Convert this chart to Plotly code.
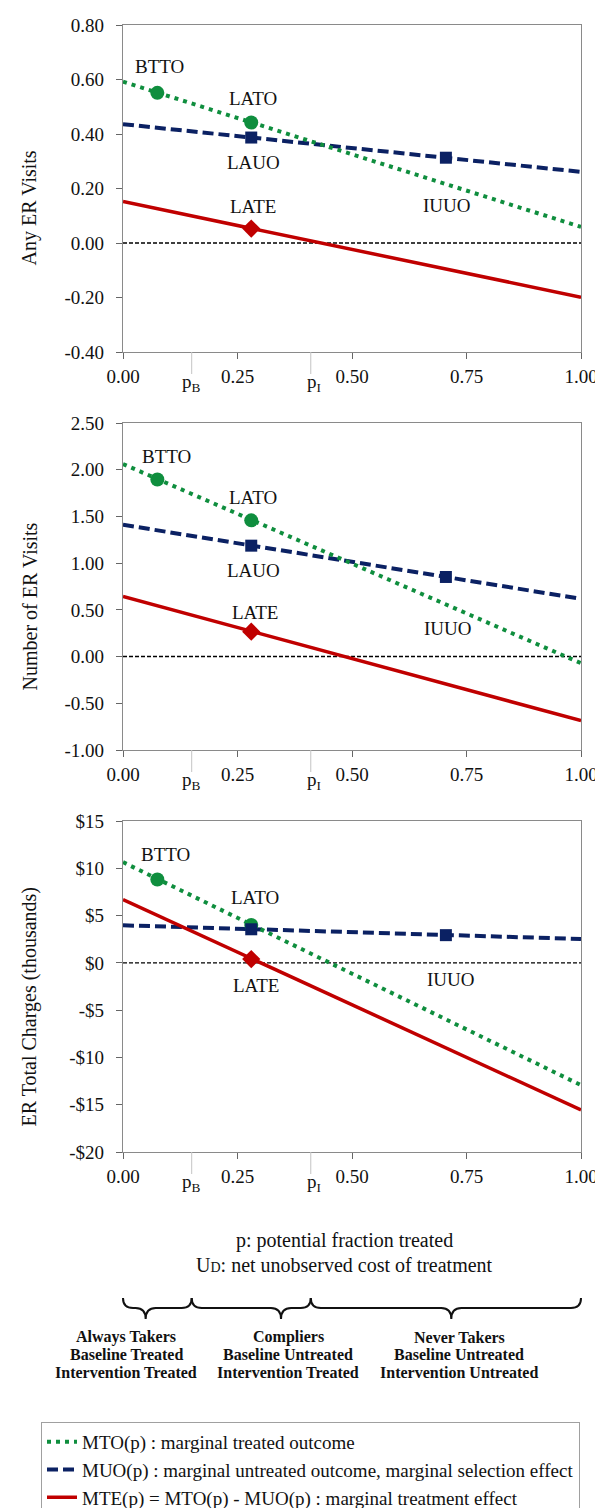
import plotly.graph_objects as go

# ---------------- data ----------------
p_ends = [0.0, 1.0]
p_B = 0.15
p_I = 0.41
p_btto = 0.075
p_late = 0.28
p_iuuo = 0.705

# Panel 1: Any ER Visits
mto_any = [0.592, 0.059]
muo_any = [0.436, 0.261]
mte_any = [0.152, -0.199]
pts_any = {"BTTO": 0.551, "LATO": 0.442, "LAUO": 0.387, "IUUO": 0.313, "LATE": 0.053}

# Panel 2: Number of ER Visits
mto_num = [2.061, -0.071]
muo_num = [1.411, 0.618]
mte_num = [0.643, -0.686]
pts_num = {"BTTO": 1.895, "LATO": 1.458, "LAUO": 1.187, "IUUO": 0.852, "LATE": 0.267}

# Panel 3: ER Total Charges (thousands)
mto_chg = [10.65, -12.93]
muo_chg = [3.97, 2.52]
mte_chg = [6.69, -15.55]
pts_chg = {"BTTO": 8.81, "LATO": 4.0, "LAUO": 3.55, "IUUO": 2.93, "LATE": 0.40}

x_tick_vals = [0, 0.25, 0.5, 0.75, 1.0]
x_tick_text = ["0.00", "0.25", "0.50", "0.75", "1.00"]

y1_tick_vals = [-0.4, -0.2, 0.0, 0.2, 0.4, 0.6, 0.8]
y1_tick_text = ["-0.40", "-0.20", "0.00", "0.20", "0.40", "0.60", "0.80"]
y2_tick_vals = [-1.0, -0.5, 0.0, 0.5, 1.0, 1.5, 2.0, 2.5]
y2_tick_text = ["-1.00", "-0.50", "0.00", "0.50", "1.00", "1.50", "2.00", "2.50"]
y3_tick_vals = [-20, -15, -10, -5, 0, 5, 10, 15]
y3_tick_text = ["-$20", "-$15", "-$10", "-$5", "$0", "$5", "$10", "$15"]

y_titles = ["Any ER Visits", "Number of ER Visits", "ER Total Charges (thousands)"]
series_names = [
    "MTO(p) : marginal treated outcome",
    "MUO(p) : marginal untreated outcome, marginal selection effect",
    "MTE(p) = MTO(p) - MUO(p) : marginal treatment effect",
]
group_lines = [
    ["Always Takers", "Baseline Treated", "Intervention Treated"],
    ["Compliers", "Baseline Untreated", "Intervention Treated"],
    ["Never Takers", "Baseline Untreated", "Intervention Untreated"],
]

# ---------------- style ----------------
W, H = 603, 1508
ML, MR = 115, 30
PW = W - ML - MR
FONT = "Liberation Serif, DejaVu Serif, serif"
GREEN = "#0F8E3E"
NAVY = "#0B2163"
RED = "#C00000"
AXC = "#8a8a8a"
TXT = "#111"

panel_px = [(17, 344), (415, 742), (813, 1144)]  # (top, bottom) px


def py(ypx):
    return 1 - ypx / H


def px(xpx):
    return (xpx - ML) / PW


fig = go.Figure()

panels = [
    (mto_any, muo_any, mte_any, pts_any, [-0.4, 0.8], y1_tick_vals, y1_tick_text),
    (mto_num, muo_num, mte_num, pts_num, [-1.0, 2.5], y2_tick_vals, y2_tick_text),
    (mto_chg, muo_chg, mte_chg, pts_chg, [-20, 15], y3_tick_vals, y3_tick_text),
]

label_offsets = [
    {"BTTO": (2, 26), "LATO": (2, 24), "LAUO": (2, -25), "LATE": (2, 22), "IUUO": (1, -48)},
    {"BTTO": (9, 23), "LATO": (2, 23), "LAUO": (2, -25), "LATE": (4, 19), "IUUO": (2, -52)},
    {"BTTO": (8, 25), "LATO": (4, 28), "LATE": (5, -26), "IUUO": (5, -44)},
]
pt_x = {"BTTO": p_btto, "LATO": p_late, "LAUO": p_late, "IUUO": p_iuuo, "LATE": p_late}

annotations = []
shapes = []


def note(x, y, text, size=19, xref="paper", yref="paper", **kw):
    d = dict(x=x, y=y, xref=xref, yref=yref, text=text, showarrow=False,
             xanchor="center", yanchor="middle",
             font=dict(family=FONT, size=size, color=TXT))
    d.update(kw)
    annotations.append(d)


for i, (mto, muo, mte, pts, yr, tv, tt) in enumerate(panels):
    n = "" if i == 0 else str(i + 1)
    xa, ya = "x" + n, "y" + n
    first = i == 0
    fig.add_trace(go.Scatter(x=p_ends, y=muo, mode="lines", xaxis=xa, yaxis=ya,
                             line=dict(color=NAVY, width=4, dash="11px,5px"),
                             name=series_names[1], legendgroup="muo", showlegend=first,
                             legendrank=2))
    fig.add_trace(go.Scatter(x=p_ends, y=mte, mode="lines", xaxis=xa, yaxis=ya,
                             line=dict(color=RED, width=3.5),
                             name=series_names[2], legendgroup="mte", showlegend=first,
                             legendrank=3))
    fig.add_trace(go.Scatter(x=p_ends, y=mto, mode="lines", xaxis=xa, yaxis=ya,
                             line=dict(color=GREEN, width=4, dash="4px,5px"),
                             name=series_names[0], legendgroup="mto", showlegend=first,
                             legendrank=1))
    # markers
    fig.add_trace(go.Scatter(x=[p_btto, p_late], y=[pts["BTTO"], pts["LATO"]], mode="markers",
                             xaxis=xa, yaxis=ya, showlegend=False,
                             marker=dict(symbol="circle", size=14, color=GREEN)))
    fig.add_trace(go.Scatter(x=[p_late, p_iuuo], y=[pts["LAUO"], pts["IUUO"]], mode="markers",
                             xaxis=xa, yaxis=ya, showlegend=False,
                             marker=dict(symbol="square", size=12, color=NAVY)))
    fig.add_trace(go.Scatter(x=[p_late], y=[pts["LATE"]], mode="markers",
                             xaxis=xa, yaxis=ya, showlegend=False,
                             marker=dict(symbol="diamond", size=14, color=RED)))

    top, bot = panel_px[i]
    dom = [py(bot), py(top)]
    fig.layout["xaxis" + n] = dict(
        domain=[0, 1], range=[0, 1], anchor=ya, tickvals=x_tick_vals, ticktext=x_tick_text,
        ticks="outside", ticklen=6, tickcolor="#666", showline=True, mirror=True,
        linecolor=AXC, linewidth=1.3, showgrid=False, zeroline=False,
        tickfont=dict(family=FONT, size=19, color=TXT), ticklabelstandoff=1,
    )
    fig.layout["yaxis" + n] = dict(
        domain=dom, range=yr, anchor=xa, tickvals=tv, ticktext=tt,
        ticks="outside", ticklen=6, tickcolor="#666", showline=True, mirror=True,
        linecolor=AXC, linewidth=1.3, showgrid=False, zeroline=False,
        tickfont=dict(family=FONT, size=19, color=TXT), ticklabelstandoff=8,
    )
    # zero line
    shapes.append(dict(type="line", xref=xa, yref=ya, x0=0, x1=1, y0=0, y1=0,
                       line=dict(color="black", width=1.4, dash="4px,2px"), layer="below"))
    # long ticks at p_B and p_I
    for pv in (p_B, p_I):
        shapes.append(dict(type="line", xref=xa, yref="paper", x0=pv, x1=pv,
                           y0=py(bot), y1=py(bot + 22),
                           line=dict(color="#c4c4c4", width=1)))
    # point labels
    for key, (dx, dy) in label_offsets[i].items():
        note(pt_x[key], pts[key], key, xref=xa, yref=ya, xshift=dx, yshift=dy)
    # p_B / p_I labels
    note(p_B, py(bot + 31), "p<sub>B</sub>", xref=xa)
    note(p_I, py(bot + 31), "p<sub>I</sub>", xref=xa, xshift=3)
    # y title
    note(px(21), py((top + bot) / 2 + 20), y_titles[i], size=20, textangle=-90)

# x-axis description
note(px(336), py(1232), "p: potential fraction treated", size=20)
note(px(336), py(1257), "U<span style='font-size:14px'>D</span>: net unobserved cost of treatment",
     size=20)

# braces
bounds = [(0.0, p_B), (p_B, p_I), (p_I, 1.0)]
tips = [0.33, 0.75, 0.52]
y_top, y_mid, y_tip = py(1290), py(1300), py(1311)
d = 0.022
for (a, b), t in zip(bounds, tips):
    m = a + t * (b - a)
    path = (f"M {a},{y_top} Q {a},{y_mid} {a+d},{y_mid} L {m-d},{y_mid} "
            f"Q {m},{y_mid} {m},{y_tip} Q {m},{y_mid} {m+d},{y_mid} "
            f"L {b-d},{y_mid} Q {b},{y_mid} {b},{y_top}")
    shapes.append(dict(type="path", xref="paper", yref="paper", path=path,
                       line=dict(color="#111", width=2)))

group_x = [118, 280, 451]
for gx, lines in zip(group_x, group_lines):
    for k, txt in enumerate(lines):
        note(px(gx), py(1329 + 17.5 * k), "<b>" + txt + "</b>", size=16)

fig.update_layout(
    width=W, height=H,
    margin=dict(l=ML, r=MR, t=0, b=0, autoexpand=False),
    plot_bgcolor="white", paper_bgcolor="white",
    annotations=annotations, shapes=shapes,
    showlegend=True,
    legend=dict(x=px(33), y=py(1414), xanchor="left", yanchor="top",
                bordercolor="#a0a0a0", borderwidth=1, bgcolor="white",
                font=dict(family=FONT, size=19, color=TXT),
                traceorder="normal", itemwidth=30, tracegroupgap=0),
)

fig.write_html("out.html")
